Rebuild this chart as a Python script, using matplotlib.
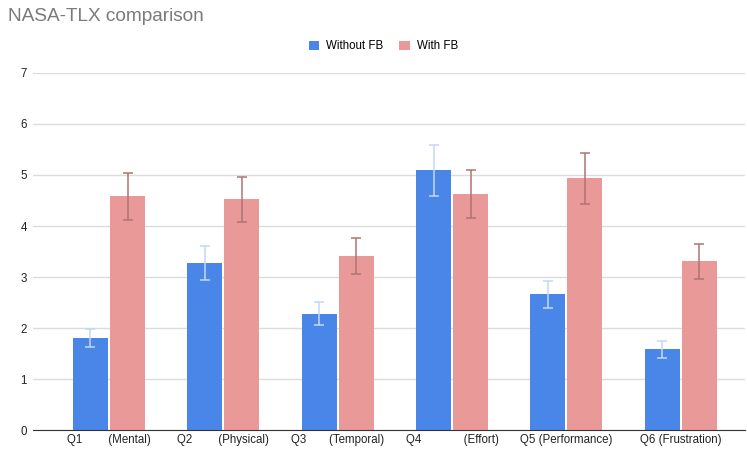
import matplotlib
matplotlib.use("Agg")
import matplotlib.pyplot as plt
import numpy as np

plt.rcParams["font.family"] = ["Liberation Sans", "DejaVu Sans"]

# dati
categories = ["Q1" + " " * 8 + "(Mental)", "Q2" + " " * 8 + "(Physical)",
              "Q3" + " " * 7 + "(Temporal)", "Q4" + " " * 13 + "(Effort)",
              "Q5 (Performance)", "Q6 (Frustration)"]
without_fb = [1.80, 3.28, 2.28, 5.09, 2.66, 1.58]
without_err = [0.18, 0.33, 0.23, 0.50, 0.27, 0.17]
with_fb = [4.58, 4.52, 3.41, 4.62, 4.94, 3.31]
with_err = [0.46, 0.45, 0.36, 0.47, 0.50, 0.34]

blue = "#4a86e8"
pink = "#ea9999"

fig = plt.figure(figsize=(7.47, 4.5), dpi=100)
ax = fig.add_axes([0.044, 0.0444, 0.953, 0.7934])

x = np.arange(len(categories))
w = 0.306
off = 0.162
ax.bar(x - off, without_fb, w, color=blue, label="Without FB", zorder=3)
ax.bar(x + off, with_fb, w, color=pink, label="With FB", zorder=3)
ax.errorbar(x - off, without_fb, yerr=without_err, fmt="none",
            ecolor="#c4d7f7", elinewidth=1.1, capsize=3.6, capthick=1.1, zorder=4)
ax.errorbar(x + off, with_fb, yerr=with_err, fmt="none",
            ecolor="#b07373", elinewidth=1.1, capsize=3.6, capthick=1.1, zorder=4)

ax.set_xlim(-0.666, 5.56)
ax.set_ylim(0, 7)
ax.set_yticks(range(0, 8))
ax.set_xticks(x)
ax.set_xticklabels(categories, fontsize=8.3, color="#222222")
ax.tick_params(axis="y", labelsize=8.3, labelcolor="#222222", length=0, pad=4.3)
ax.tick_params(axis="x", length=0, pad=3)
ax.grid(axis="y", color="#dcdcdc", linewidth=1, zorder=0)
for s in ["top", "right", "left"]:
    ax.spines[s].set_visible(False)
ax.spines["bottom"].set_color("#333333")
ax.spines["bottom"].set_zorder(5)

fig.text(0.011, 0.963, "NASA-TLX comparison", fontsize=13.7, color="#7a7a7a", va="center")
fig.legend(loc="center", bbox_to_anchor=(0.513, 0.897), ncol=2, frameon=False,
           fontsize=8.3, handlelength=0.9, handleheight=0.9, columnspacing=1.4,
           handletextpad=0.6)

fig.savefig("out.png", dpi=100, facecolor="white")
